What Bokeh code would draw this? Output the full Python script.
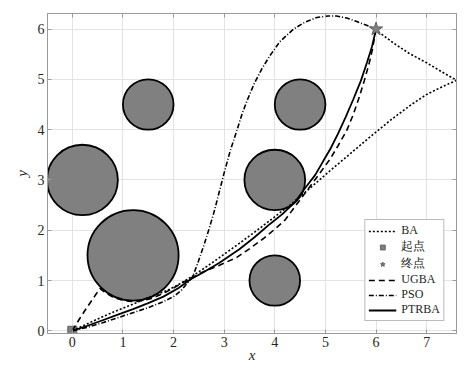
import math
from bokeh.plotting import figure
from bokeh.models import Range1d, LinearAxis, Legend, LegendItem, FixedTicker
from bokeh.embed import file_html
from bokeh.resources import INLINE

# ---------------- data ----------------
obs_x = [0.2, 1.2, 1.5, 4.0, 4.5, 4.0]
obs_y = [3.0, 1.5, 4.5, 3.0, 4.5, 1.0]
obs_r = [0.7, 0.9, 0.5, 0.6, 0.5, 0.5]

start_x = [0.0]
start_y = [0.0]
goal_x = [6.0]
goal_y = [6.0]

ba_x = [0.0, 0.3, 0.6, 0.9, 1.2, 1.5, 1.87, 2.1, 2.33, 2.6, 2.9, 3.3, 3.6, 3.9, 4.3,
        4.7, 5.1, 5.5, 5.9, 6.3, 6.7, 7.0, 7.3, 7.59, 7.3, 7.0, 6.65, 6.35, 6.0]
ba_y = [0.0, 0.14, 0.28, 0.41, 0.53, 0.66, 0.8, 0.92, 1.06, 1.24, 1.45, 1.74, 1.96, 2.19, 2.5,
        2.84, 3.19, 3.53, 3.87, 4.2, 4.5, 4.7, 4.85, 4.98, 5.15, 5.33, 5.52, 5.72, 5.98]

ugba_x = [0.0, 0.15, 0.3, 0.45, 0.55, 0.65, 0.8, 0.95, 1.1, 1.25, 1.4, 1.55, 1.7, 1.85, 2.0,
          2.15, 2.33, 2.6, 2.9, 3.25, 3.5, 3.77, 4.0, 4.2, 4.4, 4.63, 4.85, 5.09, 5.25, 5.42,
          5.55, 5.67, 5.77, 5.86, 5.93, 6.0]
ugba_y = [0.0, 0.25, 0.48, 0.7, 0.84, 0.76, 0.67, 0.62, 0.59, 0.58, 0.6, 0.64, 0.7, 0.77, 0.85,
          0.94, 1.04, 1.18, 1.3, 1.46, 1.63, 1.83, 2.02, 2.2, 2.47, 2.78, 3.08, 3.41, 3.68, 3.98,
          4.3, 4.65, 4.98, 5.3, 5.6, 6.0]

pso_x = [0.0, 0.3, 0.6, 0.9, 1.2, 1.5, 1.8, 2.0, 2.15, 2.3, 2.38, 2.48, 2.6, 2.7, 2.8, 2.9,
         3.0, 3.12, 3.25, 3.35, 3.45, 3.6, 3.75, 3.91, 4.1, 4.37, 4.6, 4.83, 5.05, 5.22, 5.42,
         5.62, 5.8, 6.0]
pso_y = [0.0, 0.07, 0.16, 0.26, 0.36, 0.46, 0.58, 0.68, 0.8, 0.98, 1.08, 1.35, 1.7, 2.02, 2.36, 2.75,
         3.14, 3.58, 3.98, 4.3, 4.57, 4.93, 5.22, 5.48, 5.75, 6.0, 6.14, 6.23, 6.26, 6.26, 6.22,
         6.15, 6.08, 6.0]

ptrba_x = [0.0, 0.3, 0.6, 0.9, 1.2, 1.5, 1.8, 2.1, 2.33, 2.6, 2.9, 3.3, 3.6, 3.9, 4.15, 4.4,
           4.6, 4.8, 4.96, 5.1, 5.25, 5.4, 5.55, 5.7, 5.82, 5.92, 6.0]
ptrba_y = [0.0, 0.1, 0.21, 0.32, 0.43, 0.55, 0.68, 0.85, 1.02, 1.17, 1.35, 1.62, 1.86, 2.12, 2.32, 2.56,
           2.84, 3.1, 3.38, 3.62, 3.92, 4.25, 4.6, 4.97, 5.33, 5.65, 6.0]

x_ticks = [0, 1, 2, 3, 4, 5, 6, 7]
y_ticks = [0, 1, 2, 3, 4, 5, 6]
legend_labels = ["BA", "起点", "终点", "UGBA", "PSO", "PTRBA"]

# ---------------- figure ----------------
SERIF = "Liberation Serif"
FRAME = "#9a9a9a"

p = figure(width=471, height=367,
           x_range=Range1d(-0.49, 7.59), y_range=Range1d(-0.054, 6.31),
           output_backend="svg", toolbar_location=None,
           min_border_left=47, min_border_right=15, min_border_top=13, min_border_bottom=34)
p.outline_line_color = FRAME
p.background_fill_color = "white"
p.border_fill_color = "white"

for ax, ticks in ((p.xaxis[0], x_ticks), (p.yaxis[0], y_ticks)):
    ax.ticker = FixedTicker(ticks=ticks)
    ax.axis_line_color = FRAME
    ax.major_tick_line_color = FRAME
    ax.major_tick_in = 4
    ax.major_tick_out = 0
    ax.minor_tick_in = 0
    ax.minor_tick_out = 0
    ax.major_label_text_font = SERIF
    ax.major_label_text_font_size = "14px"
    ax.major_label_text_color = "#262626"
    ax.major_label_standoff = 3
    ax.axis_label_text_font = SERIF
    ax.axis_label_text_font_style = "italic"
    ax.axis_label_text_font_size = "15px"
    ax.axis_label_text_color = "#262626"

p.xaxis[0].axis_label = "x"
p.xaxis[0].axis_label_standoff = -3
p.yaxis[0].axis_label = "y"
p.yaxis[0].axis_label_standoff = 5

for loc, ticks in (("right", y_ticks), ("above", x_ticks)):
    ax = LinearAxis(ticker=FixedTicker(ticks=ticks), axis_line_color=FRAME,
                    major_tick_line_color=FRAME, major_tick_in=4, major_tick_out=0,
                    minor_tick_in=0, minor_tick_out=0,
                    major_label_overrides={t: "" for t in ticks},
                    major_label_text_font_size="10px", major_label_standoff=0)
    p.add_layout(ax, loc)

p.xgrid.ticker = FixedTicker(ticks=x_ticks)
p.ygrid.ticker = FixedTicker(ticks=y_ticks)
p.grid.grid_line_color = "#e3e3e3"
p.grid.grid_line_width = 1

# obstacles
p.ellipse(x=obs_x, y=obs_y, width=[2 * r for r in obs_r], height=[2 * r for r in obs_r],
          fill_color="#808080", line_color="black", line_width=1.8)

r_start = p.scatter(start_x, start_y, marker="square", size=9, fill_color="#808080",
                    line_color="#606060", line_width=1)

r_ba = p.line(ba_x, ba_y, line_color="black", line_width=1.6, line_dash="2 2")
r_ugba = p.line(ugba_x, ugba_y, line_color="black", line_width=1.6, line_dash="6 4")
r_pso = p.line(pso_x, pso_y, line_color="black", line_width=1.6, line_dash="5 2 1 2")
r_ptrba = p.line(ptrba_x, ptrba_y, line_color="black", line_width=1.8)

r_goal = p.scatter(goal_x, goal_y, marker="star", size=14, fill_color="#808080",
                   line_color="#606060", line_width=1)

legend = Legend(items=[
    LegendItem(label=legend_labels[0], renderers=[r_ba]),
    LegendItem(label=legend_labels[1], renderers=[r_start]),
    LegendItem(label=legend_labels[2], renderers=[r_goal]),
    LegendItem(label=legend_labels[3], renderers=[r_ugba]),
    LegendItem(label=legend_labels[4], renderers=[r_pso]),
    LegendItem(label=legend_labels[5], renderers=[r_ptrba]),
], location="bottom_right", margin=12, padding=3, spacing=0,
    glyph_height=12, glyph_width=28, label_height=12, label_standoff=5,
    label_text_font=SERIF, label_text_font_size="12px", label_text_line_height=0.9,
    label_text_color="#262626", border_line_color="#7a7a7a", border_line_width=1,
    background_fill_color="white", background_fill_alpha=1.0)
p.add_layout(legend)

open("out.html", "w").write(file_html(p, INLINE))
